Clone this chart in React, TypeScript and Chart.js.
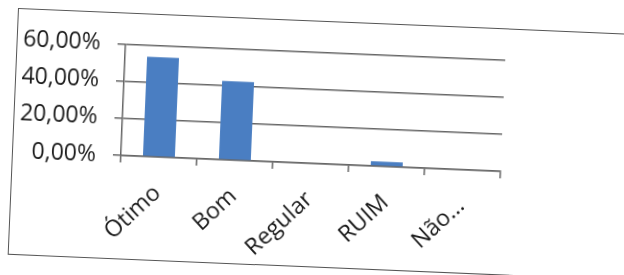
import React, { useEffect, useRef } from "react";
import { Chart, registerables } from "chart.js";

Chart.register(...registerables);

const categories = ["Ótimo", "Bom", "Regular", "RUIM", "Não..."];
const values = [53.85, 42.5, 0, 2.56, 0];
const yTicks = [0, 20, 40, 60];

const W = 640;
const H = 245;

export default function App() {
  const ref = useRef<HTMLCanvasElement | null>(null);
  useEffect(() => {
    if (!ref.current) return;
    const chart = new Chart(ref.current, {
      type: "bar",
      data: {
        labels: categories,
        datasets: [
          {
            data: values,
            backgroundColor: "#4A7EC2",
            borderWidth: 0,
            categoryPercentage: 1,
            barPercentage: 0.42,
          },
        ],
      },
      options: {
        responsive: false,
        animation: false,
        devicePixelRatio: 1,
        layout: { padding: { top: 30, left: 4, right: 152, bottom: 0 } },
        plugins: { legend: { display: false }, tooltip: { enabled: false } },
        scales: {
          x: {
            offset: true,
            grid: {
              drawOnChartArea: false,
              drawTicks: true,
              tickLength: 7,
              color: "#666",
              lineWidth: 1.5,
              offset: true,
            },
            border: { display: true, color: "#666", width: 1.5 },
            ticks: {
              minRotation: 45,
              maxRotation: 45,
              color: "#1a1a1a",
              padding: 16,
              font: { family: "'Open Sans'", size: 23 },
            },
            afterFit: (s: any) => {
              s.height = H - 142;
            },
          },
          y: {
            min: 0,
            max: 60,
            afterBuildTicks: (s: any) => {
              s.ticks = yTicks.map((v) => ({ value: v }));
            },
            grid: { color: "#666", lineWidth: 1.5, tickLength: 8 },
            border: { display: true, color: "#666", width: 1.5 },
            ticks: {
              color: "#1a1a1a",
              padding: 17,
              font: { family: "'Open Sans'", size: 23 },
              callback: (v: any) => Number(v).toFixed(2).replace(".", ",") + "%",
            },
            afterFit: (s: any) => {
              s.width = 104;
            },
          },
        },
      },
    });
    return () => chart.destroy();
  }, []);

  return (
    <div
      style={{
        position: "fixed",
        left: 0,
        top: 0,
        width: 624,
        height: 275,
        overflow: "hidden",
        background: "#fff",
      }}
    >
      <div
        style={{
          position: "absolute",
          left: 18,
          top: 8,
          width: W,
          height: H,
          border: "1.5px solid #555",
          transform: "rotate(2.4deg)",
          transformOrigin: "top left",
        }}
      >
        <canvas ref={ref} width={W} height={H} style={{ display: "block" }} />
      </div>
    </div>
  );
}
